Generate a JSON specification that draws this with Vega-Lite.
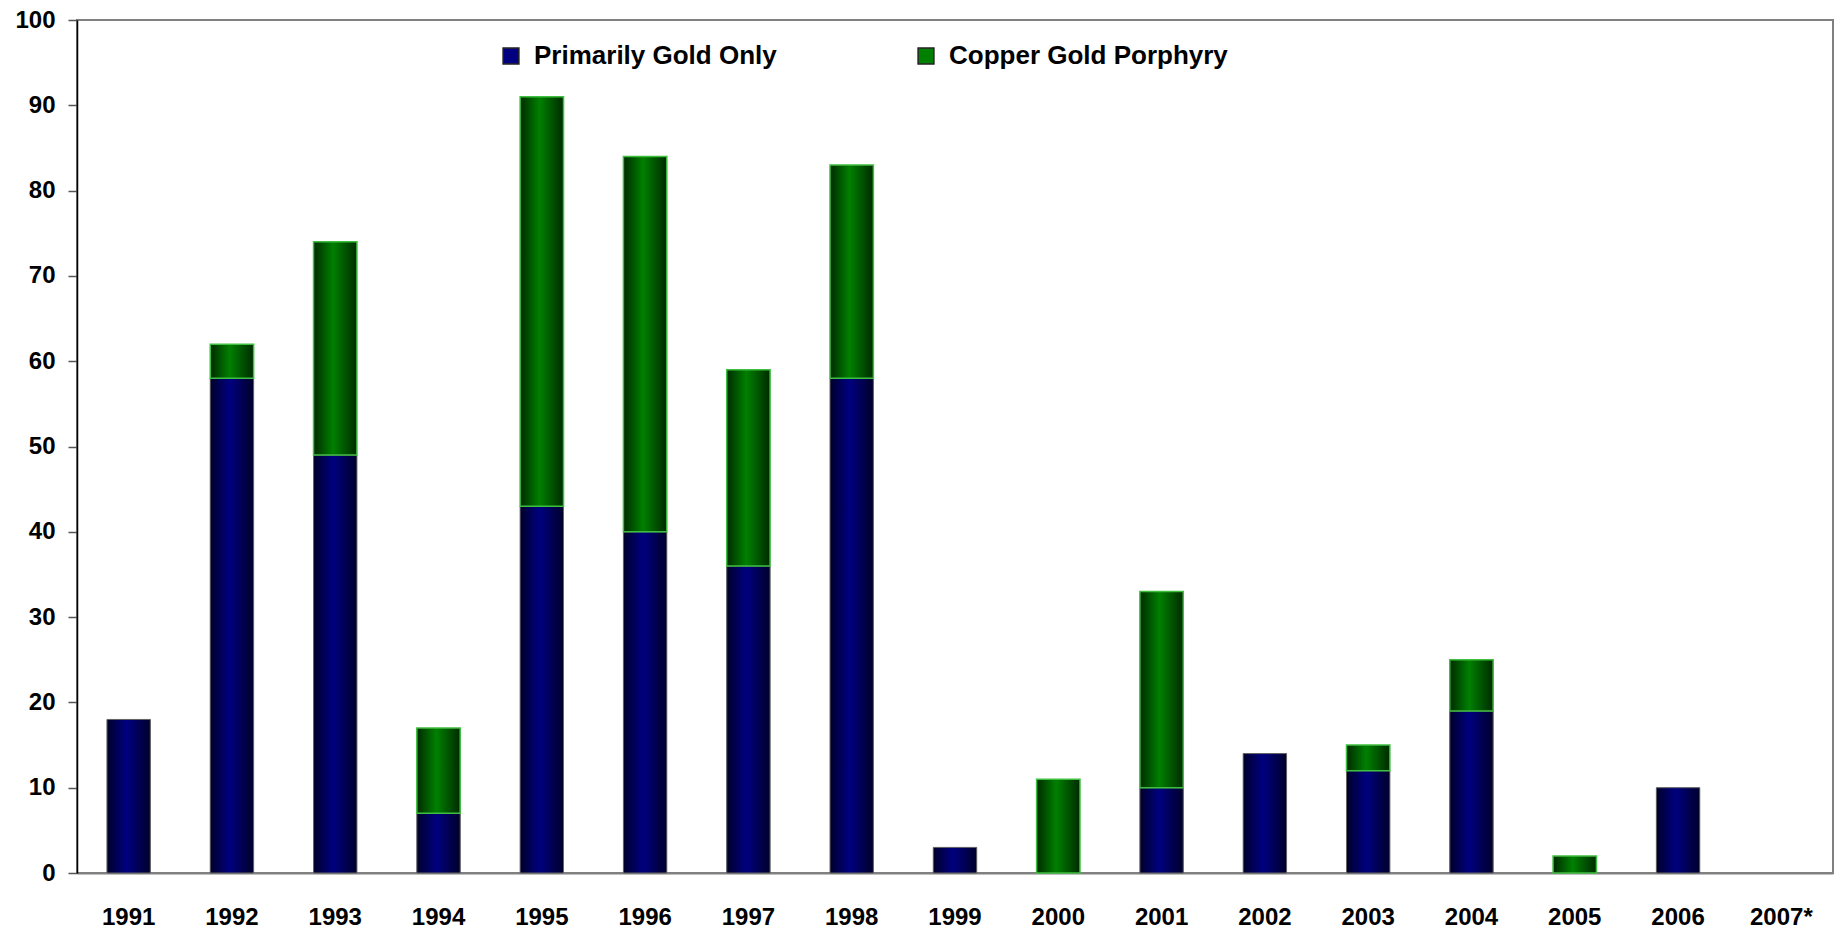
{
  "$schema": "https://vega.github.io/schema/vega-lite/v6.json",
  "width": 1756,
  "height": 853,
  "autosize": {"type": "none"},
  "padding": {"left": 77, "top": 20, "right": 2, "bottom": 57},
  "background": "white",
  "config": {
    "view": {"stroke": "#808080", "strokeWidth": 2},
    "font": "Liberation Sans"
  },
  "data": {
    "values": [
      {"year": "1991", "type": "Primarily Gold Only", "count": 18},
      {"year": "1991", "type": "Copper Gold Porphyry", "count": 0},
      {"year": "1992", "type": "Primarily Gold Only", "count": 58},
      {"year": "1992", "type": "Copper Gold Porphyry", "count": 4},
      {"year": "1993", "type": "Primarily Gold Only", "count": 49},
      {"year": "1993", "type": "Copper Gold Porphyry", "count": 25},
      {"year": "1994", "type": "Primarily Gold Only", "count": 7},
      {"year": "1994", "type": "Copper Gold Porphyry", "count": 10},
      {"year": "1995", "type": "Primarily Gold Only", "count": 43},
      {"year": "1995", "type": "Copper Gold Porphyry", "count": 48},
      {"year": "1996", "type": "Primarily Gold Only", "count": 40},
      {"year": "1996", "type": "Copper Gold Porphyry", "count": 44},
      {"year": "1997", "type": "Primarily Gold Only", "count": 36},
      {"year": "1997", "type": "Copper Gold Porphyry", "count": 23},
      {"year": "1998", "type": "Primarily Gold Only", "count": 58},
      {"year": "1998", "type": "Copper Gold Porphyry", "count": 25},
      {"year": "1999", "type": "Primarily Gold Only", "count": 3},
      {"year": "1999", "type": "Copper Gold Porphyry", "count": 0},
      {"year": "2000", "type": "Primarily Gold Only", "count": 0},
      {"year": "2000", "type": "Copper Gold Porphyry", "count": 11},
      {"year": "2001", "type": "Primarily Gold Only", "count": 10},
      {"year": "2001", "type": "Copper Gold Porphyry", "count": 23},
      {"year": "2002", "type": "Primarily Gold Only", "count": 14},
      {"year": "2002", "type": "Copper Gold Porphyry", "count": 0},
      {"year": "2003", "type": "Primarily Gold Only", "count": 12},
      {"year": "2003", "type": "Copper Gold Porphyry", "count": 3},
      {"year": "2004", "type": "Primarily Gold Only", "count": 19},
      {"year": "2004", "type": "Copper Gold Porphyry", "count": 6},
      {"year": "2005", "type": "Primarily Gold Only", "count": 0},
      {"year": "2005", "type": "Copper Gold Porphyry", "count": 2},
      {"year": "2006", "type": "Primarily Gold Only", "count": 10},
      {"year": "2006", "type": "Copper Gold Porphyry", "count": 0},
      {"year": "2007*", "type": "Primarily Gold Only", "count": 0},
      {"year": "2007*", "type": "Copper Gold Porphyry", "count": 0}
    ]
  },
  "transform": [
    {"calculate": "datum.type === 'Primarily Gold Only' ? 0 : 1", "as": "ord"},
    {"stack": "count", "groupby": ["year"], "sort": [{"field": "ord", "order": "ascending"}], "as": ["y0", "y1"]}
  ],
  "encoding": {
    "x": {
      "field": "year", "type": "ordinal", "title": null,
      "scale": {
        "domain": ["1991", "1992", "1993", "1994", "1995", "1996", "1997", "1998", "1999", "2000", "2001", "2002", "2003", "2004", "2005", "2006", "2007*"],
        "paddingInner": 0.58, "paddingOuter": 0.29
      },
      "axis": {
        "labelAngle": 0, "ticks": false, "domainColor": "#808080", "domainWidth": 2,
        "labelFont": "Liberation Sans", "labelFontWeight": "bold", "labelFontSize": 24,
        "labelColor": "black", "labelPadding": 32
      }
    },
    "y": {
      "field": "y0", "type": "quantitative", "title": null,
      "scale": {"domain": [0, 100], "nice": false},
      "axis": {
        "values": [0, 10, 20, 30, 40, 50, 60, 70, 80, 90, 100],
        "grid": false, "domainColor": "black", "domainWidth": 1.5,
        "tickColor": "#555555", "tickSize": 9, "tickWidth": 1.5,
        "labelFont": "Liberation Sans", "labelFontWeight": "bold", "labelFontSize": 24,
        "labelColor": "black", "labelPadding": 13
      }
    },
    "y2": {"field": "y1"}
  },
  "layer": [
    {
      "mark": {"type": "bar"},
      "transform": [{"filter": "datum.count > 0"}],
      "encoding": {
        "color": {
          "field": "type", "type": "nominal",
          "scale": {"domain": ["Primarily Gold Only", "Copper Gold Porphyry"], "range": ["#000080", "#008000"]},
          "legend": {
            "title": null, "orient": "none", "legendX": 421, "legendY": 23,
            "direction": "horizontal", "columns": 2, "columnPadding": 136,
            "symbolType": "square", "symbolSize": 250, "symbolStrokeColor": "#222222", "symbolStrokeWidth": 1.5,
            "labelFont": "Liberation Sans", "labelFontWeight": "bold", "labelFontSize": 26,
            "labelColor": "black", "labelLimit": 400, "labelOffset": 10
          }
        }
      }
    },
    {
      "transform": [{"filter": "datum.type === 'Primarily Gold Only' && datum.count > 0"}],
      "mark": {
        "type": "bar", "stroke": "#666666", "strokeWidth": 1,
        "fill": {
          "x1": 0, "y1": 0, "x2": 1, "y2": 0, "gradient": "linear",
          "stops": [
            {"offset": 0, "color": "#00002a"},
            {"offset": 0.45, "color": "#000080"},
            {"offset": 1, "color": "#00002a"}
          ]
        }
      }
    },
    {
      "transform": [{"filter": "datum.type === 'Copper Gold Porphyry' && datum.count > 0"}],
      "mark": {
        "type": "bar", "stroke": "#3fbf3f", "strokeWidth": 1.5,
        "fill": {
          "x1": 0, "y1": 0, "x2": 1, "y2": 0, "gradient": "linear",
          "stops": [
            {"offset": 0, "color": "#002a00"},
            {"offset": 0.45, "color": "#008000"},
            {"offset": 1, "color": "#002a00"}
          ]
        }
      }
    }
  ]
}
